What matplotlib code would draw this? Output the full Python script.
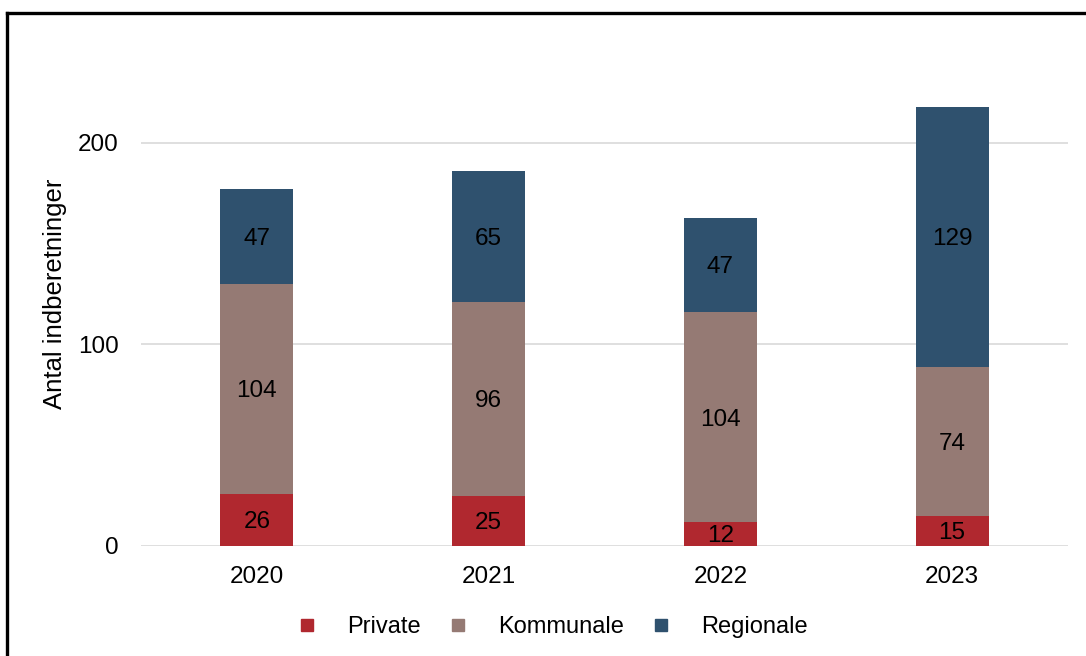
import matplotlib.pyplot as plt
from matplotlib.lines import Line2D
import numpy as np

plt.rcParams['font.family'] = ['Liberation Sans', 'DejaVu Sans']

years = ['2020', '2021', '2022', '2023']
private = [26, 25, 12, 15]
kommunale = [104, 96, 104, 74]
regionale = [47, 65, 47, 129]

series = [('Private', private, '#B0282F'),
          ('Kommunale', kommunale, '#957A74'),
          ('Regionale', regionale, '#2F516E')]

fs = 17.5

fig = plt.figure(figsize=(10.86, 6.56), dpi=100)
ax = fig.add_axes([0.1298, 0.1677, 0.8536, 0.7372])

x = np.arange(len(years))
bottom = np.zeros(len(years))
handles = []
for name, vals, col in series:
    vals = np.array(vals)
    ax.bar(x, vals, 0.315, bottom=bottom, color=col, zorder=3)
    for xi, b, v in zip(x, bottom, vals):
        ax.text(xi, b + v / 2, str(v), ha='center', va='center_baseline', fontsize=fs, color='black', zorder=4)
    bottom = bottom + vals
    handles.append(Line2D([], [], marker='s', linestyle='none', markersize=8.6,
                          markerfacecolor=col, markeredgecolor=col, label=name))

ax.set_xlim(-0.5, 3.5)
ax.set_ylim(0, 240)
ax.set_yticks([0, 100, 200])
ax.set_xticks(x)
ax.set_xticklabels(years)
ax.tick_params(axis='both', length=0, labelsize=fs)
ax.tick_params(axis='y', pad=16)
ax.tick_params(axis='x', pad=14.5)
ax.grid(axis='y', color='#D9D9D9', linewidth=1.2, zorder=0)
for s in ax.spines.values():
    s.set_visible(False)
ax.set_ylabel('Antal indberetninger', fontsize=18.5)
ax.yaxis.set_label_coords(-0.08, 0.521)

fig.legend(handles=handles, loc='center', bbox_to_anchor=(0.5106, 1 - 627 / 656), ncol=3,
           frameon=False, fontsize=17, handlelength=0.5, handletextpad=1.44, columnspacing=1.34)

# outer frame (top and left edges visible)
fx, fy = 6.5 / 1086, 1 - 12.5 / 656
fig.add_artist(Line2D([fx, 1.02], [fy, fy], transform=fig.transFigure, color='black', linewidth=2.4))
fig.add_artist(Line2D([fx, fx], [fy, -0.02], transform=fig.transFigure, color='black', linewidth=2.4))

fig.savefig('out.png', dpi=100)
